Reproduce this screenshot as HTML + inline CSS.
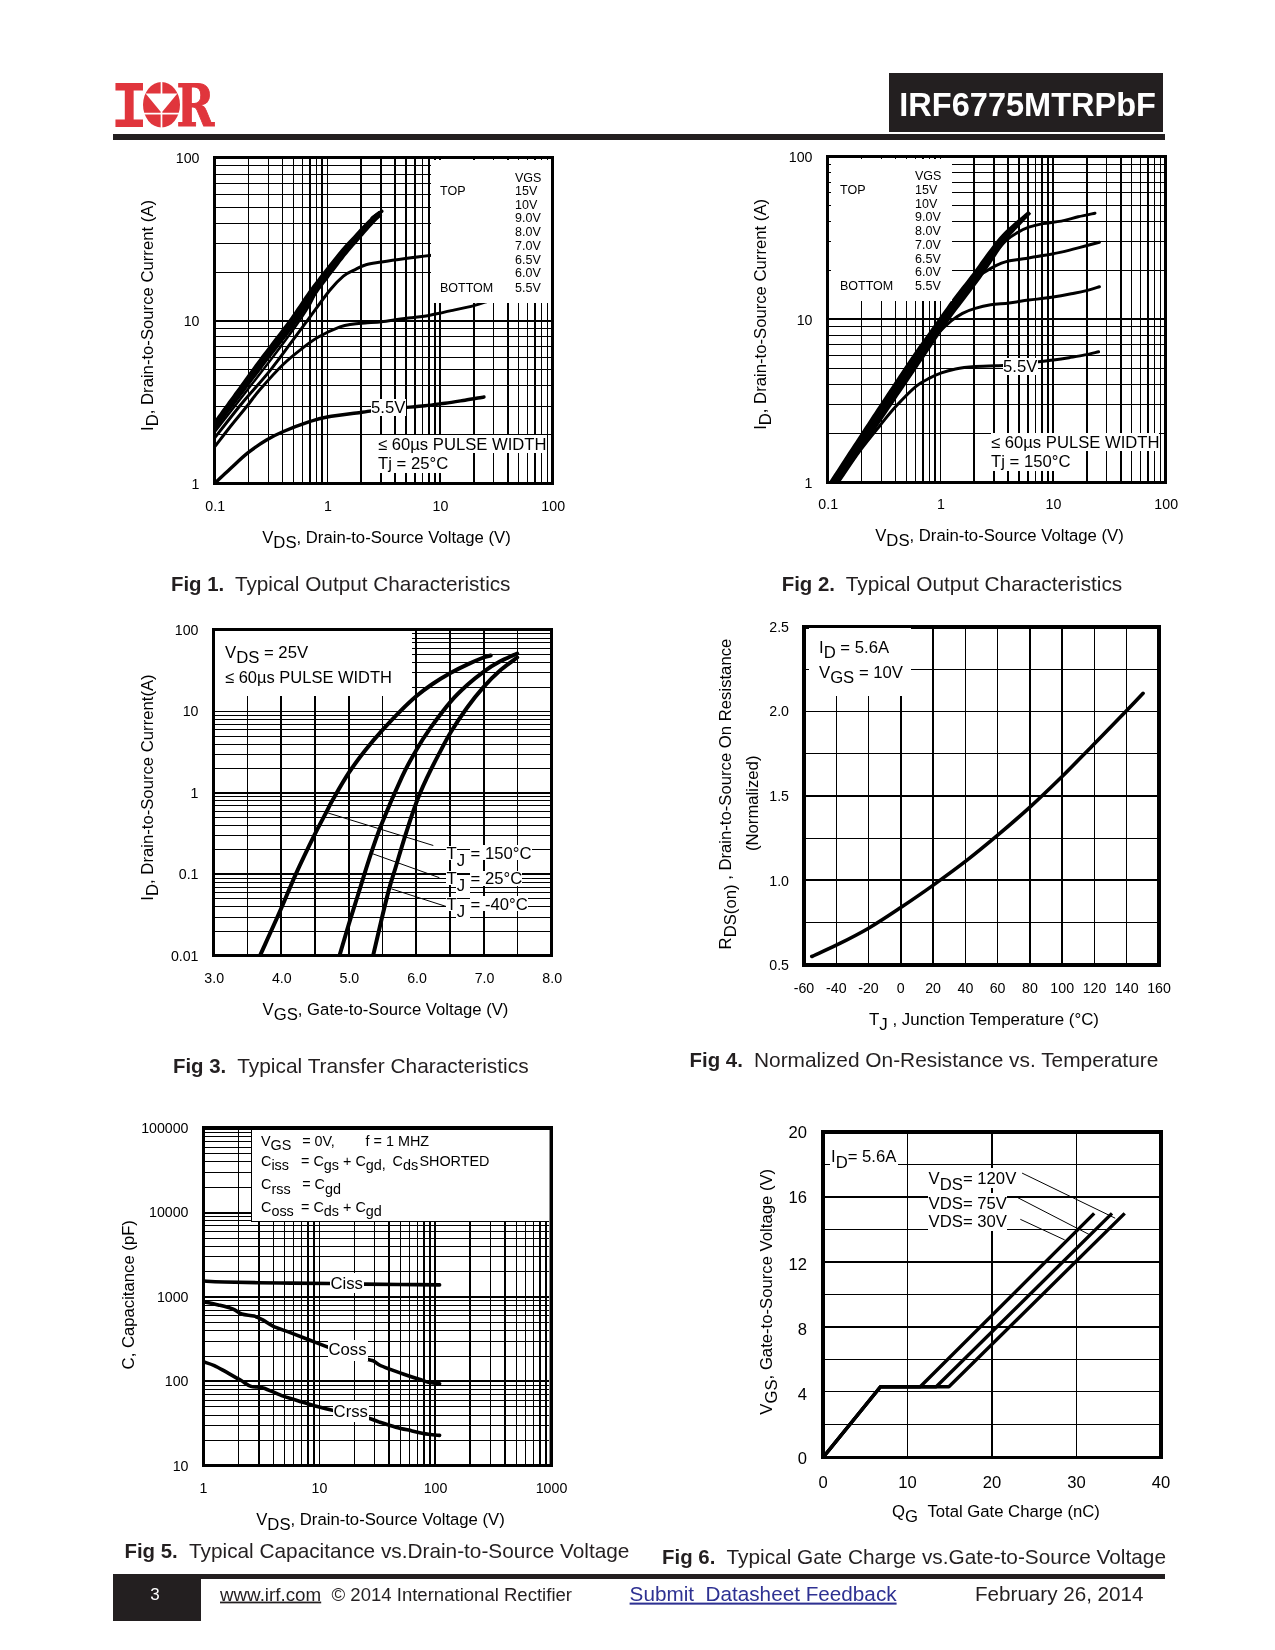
<!DOCTYPE html>
<html lang="en"><head><meta charset="utf-8"><title>IRF6775MTRPbF</title>
<style>
html,body{margin:0;padding:0;background:#fff}
body{width:1275px;height:1650px;overflow:hidden}
svg{display:block;font-family:'Liberation Sans', sans-serif;fill:#000;will-change:transform;transform:translateZ(0)}
</style></head><body>
<svg width="1275" height="1650" viewBox="0 0 1275 1650">
<g fill="#e0353c">
<text x="110.7" y="126.9" font-family="'Liberation Mono', monospace" font-weight="bold" font-size="67" textLength="36.9" lengthAdjust="spacingAndGlyphs">I</text>
<text x="0" y="0" font-family="'DejaVu Serif', 'Liberation Serif', serif" font-weight="bold" font-size="58" stroke="#e0353c" stroke-width="1.0" stroke-linejoin="miter" transform="translate(176.6,126.4) scale(0.784,1.0)">R</text>
<ellipse cx="161.5" cy="104.8" rx="18.5" ry="22.8"/>
</g>
<path d="M145.6 93.5H177.4L161.5 112.8Z" fill="#fff"/>
<path d="M161.5 81V94 M161.5 112V128.5 M142 113.7H181" stroke="#fff" stroke-width="1.7" fill="none"/>
<rect x="889.00" y="73.00" width="274.00" height="59.30" fill="#231f20" shape-rendering="crispEdges"/>
<text x="899.3" y="116" font-size="33.5" font-weight="bold" fill="#fff" textLength="256.7" lengthAdjust="spacingAndGlyphs">IRF6775MTRPbF</text>
<rect x="113.00" y="134.00" width="1052.00" height="5.60" fill="#231f20" shape-rendering="crispEdges"/>
<path d="M248 157h1V484h-1zM268 157h1V484h-1zM282 157h1V484h-1zM293 157h1V484h-1zM302 157h1V484h-1zM309 157h2V484h-2zM316 157h1V484h-1zM321 157h2V484h-2zM327 157h1V484h-1zM360 157h2V484h-2zM380 157h2V484h-2zM394 157h2V484h-2zM405 157h2V484h-2zM414 157h2V484h-2zM422 157h1V484h-1zM428 157h2V484h-2zM434 157h2V484h-2zM439 157h2V484h-2zM473 157h2V484h-2zM493 157h1V484h-1zM507 157h2V484h-2zM518 157h1V484h-1zM527 157h1V484h-1zM534 157h2V484h-2zM541 157h1V484h-1zM547 157h1V484h-1zM214 434H553v1H214zM214 406H553v1H214zM214 385H553v1H214zM214 369H553v1H214zM214 357H553v1H214zM214 346H553v1H214zM214 336H553v1H214zM214 328H553v1H214zM214 320H553v2H214zM214 272H553v1H214zM214 243H553v1H214zM214 223H553v1H214zM214 207H553v1H214zM214 194H553v1H214zM214 183H553v1H214zM214 174H553v1H214zM214 165H553v1H214z" fill="#000" shape-rendering="crispEdges"/>
<text x="215.2" y="511.0" font-size="14.2" text-anchor="middle">0.1</text>
<text x="327.9" y="511.0" font-size="14.2" text-anchor="middle">1</text>
<text x="440.5" y="511.0" font-size="14.2" text-anchor="middle">10</text>
<text x="553.2" y="511.0" font-size="14.2" text-anchor="middle">100</text>
<text x="199.5" y="162.8" font-size="14.2" text-anchor="end">100</text>
<text x="199.5" y="325.8" font-size="14.2" text-anchor="end">10</text>
<text x="199.5" y="488.8" font-size="14.2" text-anchor="end">1</text>
<text x="386.5" y="543.0" font-size="16.7" text-anchor="middle">V<tspan dy="5">DS</tspan><tspan dy="-5">, Drain-to-Source Voltage (V)</tspan></text>
<text transform="translate(152.5,315.5) rotate(-90)" font-size="16.7" text-anchor="middle">I<tspan dy="5">D</tspan><tspan dy="-5">, Drain-to-Source Current (A)</tspan></text>
<clipPath id="c1"><rect x="214.5" y="157.5" width="338.0" height="326.0"/></clipPath><g clip-path="url(#c1)">
<path d="M212.7 434.0 L214.8 431.2 L216.9 428.4 L219.1 425.6 L221.2 422.8 L223.3 420.0 L225.4 417.2 L227.5 414.3 L229.6 411.5 L231.8 408.7 L233.9 405.9 L236.0 403.1 L238.1 400.3 L240.2 397.5 L242.3 394.7 L244.5 391.9 L246.6 389.1 L248.7 386.3 L250.8 383.4 L252.9 380.6 L255.0 377.8 L257.2 375.0 L259.3 372.2 L261.4 369.4 L263.5 366.6 L265.6 363.8 L267.7 361.0 L269.9 358.3 L272.0 355.5 L274.2 352.7 L276.3 349.9 L278.5 347.2 L280.6 344.4 L282.8 341.6 L285.0 338.8 L287.1 336.0 L289.3 333.3 L291.4 330.5 L293.6 327.7 L295.7 324.8 L297.8 321.9 L299.9 319.0 L301.9 316.0 L303.9 313.1 L305.8 310.2 L307.8 307.3 L309.8 304.4 L311.7 301.4 L313.7 298.6 L315.6 295.7 L317.6 292.9 L319.6 290.1 L321.7 287.3 L323.8 284.5 L325.9 281.7 L328.1 278.9 L330.2 276.1 L332.3 273.3 L334.5 270.5 L336.6 267.7 L338.7 264.9 L340.8 262.1 L343.0 259.4 L345.1 256.6 L347.3 254.0 L349.5 251.3 L351.7 248.7 L354.0 246.0 L356.4 243.4 L358.7 240.7 L361.0 238.1 L363.3 235.4 L365.6 232.8 L367.9 230.2 L370.2 227.6 L372.6 225.0 L374.9 222.5 L377.3 220.1 L379.8 217.7 L382.3 215.3 L378.7 211.1 L375.9 213.3 L373.1 215.5 L370.4 217.9 L367.8 220.4 L365.3 223.0 L362.9 225.5 L360.4 228.1 L358.0 230.7 L355.7 233.3 L353.3 235.9 L350.9 238.5 L348.5 241.1 L346.1 243.6 L343.7 246.3 L341.3 249.0 L339.0 251.7 L336.8 254.5 L334.6 257.2 L332.4 260.0 L330.2 262.8 L328.0 265.5 L325.9 268.3 L323.7 271.1 L321.5 273.8 L319.3 276.6 L317.2 279.4 L315.0 282.2 L312.8 285.0 L310.7 287.9 L308.6 290.8 L306.6 293.7 L304.6 296.6 L302.6 299.6 L300.7 302.5 L298.7 305.4 L296.7 308.3 L294.8 311.2 L292.8 314.1 L290.8 316.9 L288.8 319.7 L286.8 322.5 L284.7 325.3 L282.5 328.1 L280.4 330.9 L278.3 333.7 L276.1 336.5 L274.0 339.3 L271.9 342.1 L269.7 344.9 L267.6 347.7 L265.5 350.4 L263.3 353.3 L261.2 356.1 L259.1 358.9 L257.0 361.8 L254.9 364.6 L252.8 367.4 L250.8 370.3 L248.7 373.1 L246.6 376.0 L244.6 378.8 L242.5 381.7 L240.4 384.5 L238.4 387.4 L236.3 390.2 L234.2 393.1 L232.2 395.9 L230.1 398.7 L228.0 401.6 L226.0 404.4 L223.9 407.3 L221.8 410.1 L219.8 413.0 L217.7 415.8 L215.6 418.7 L213.6 421.5 L211.5 424.3 L209.4 427.1 L207.3 430.0Z" fill="#000"/>
<path d="M214.5 432.2C223.8 420.2 256.9 377.9 270.6 360.0C284.3 342.1 290.1 334.0 296.5 325.0C302.9 316.0 305.8 311.5 309.0 306.0C312.2 300.5 314.8 294.3 316.0 292.0" stroke="#000" stroke-width="2.4" fill="none" stroke-linecap="round" stroke-linejoin="round"/>
<path d="M372.0 218.0C373.0 217.2 376.3 214.6 378.0 213.5C379.7 212.4 381.3 211.7 382.0 211.3" stroke="#000" stroke-width="3.2" fill="none" stroke-linecap="round" stroke-linejoin="round"/>
<path d="M214.5 438.2C219.2 432.2 233.4 413.6 243.0 402.0C252.6 390.4 261.1 382.0 271.8 368.4C282.5 354.8 297.6 333.7 307.3 320.6C317.0 307.5 324.0 297.4 330.0 290.0C336.0 282.6 339.3 279.5 343.4 276.1C347.5 272.7 350.9 271.7 354.7 269.8C358.5 267.9 361.5 266.1 366.0 264.8C370.5 263.5 374.9 263.1 381.5 262.0C388.1 260.9 397.1 259.6 405.5 258.5C413.9 257.4 427.6 255.8 432.0 255.3" stroke="#000" stroke-width="3" fill="none" stroke-linecap="round" stroke-linejoin="round"/>
<path d="M214.5 447.0C217.1 443.7 224.4 434.1 230.0 427.0C235.6 419.9 243.2 410.9 248.1 404.7C253.0 398.5 253.8 396.7 259.6 390.0C265.4 383.3 275.9 371.5 283.1 364.5C290.3 357.5 296.8 352.6 302.7 348.0C308.6 343.4 312.2 340.5 318.4 337.0C324.6 333.5 334.4 329.0 340.0 326.9C345.6 324.8 347.8 324.8 352.0 324.2C356.2 323.6 360.1 323.4 365.0 323.0C369.9 322.6 376.1 322.4 381.5 321.8C386.9 321.2 392.2 320.3 397.1 319.6C402.1 318.9 405.9 318.5 411.2 317.8C416.5 317.1 424.1 316.1 428.8 315.4C433.5 314.6 435.9 314.1 439.4 313.3C442.9 312.6 444.2 312.2 450.0 310.9C455.8 309.6 467.7 307.2 473.9 305.6C480.1 304.0 484.8 302.2 487.0 301.5" stroke="#000" stroke-width="3" fill="none" stroke-linecap="round" stroke-linejoin="round"/>
<path d="M214.5 483.5C217.1 481.1 224.4 474.1 230.0 469.0C235.6 463.9 242.0 457.5 248.1 452.7C254.2 447.9 260.6 443.5 266.5 440.0C272.4 436.5 276.3 434.5 283.4 431.5C290.4 428.5 301.5 424.3 308.8 421.9C316.1 419.5 318.4 418.6 327.2 417.0C336.0 415.4 354.3 413.3 361.8 412.3C369.3 411.3 370.3 411.1 372.0 410.8" stroke="#000" stroke-width="3.4" fill="none" stroke-linecap="round" stroke-linejoin="round"/>
<path d="M405.0 407.5C408.3 407.2 418.3 406.5 425.0 405.8C431.7 405.1 438.3 404.1 445.0 403.2C451.7 402.3 458.5 401.2 465.0 400.2C471.5 399.2 480.8 397.5 484.0 397.0" stroke="#000" stroke-width="3.4" fill="none" stroke-linecap="round" stroke-linejoin="round"/>
</g>
<rect x="430.50" y="160.00" width="120.50" height="142.50" fill="#fff" shape-rendering="crispEdges"/>
<text x="515" y="181.5" font-size="12.5">VGS</text>
<text x="515" y="195.29999999999998" font-size="12.5">15V</text>
<text x="515" y="209.1" font-size="12.5">10V</text>
<text x="515" y="222.1" font-size="12.5">9.0V</text>
<text x="515" y="235.79999999999998" font-size="12.5">8.0V</text>
<text x="515" y="249.7" font-size="12.5">7.0V</text>
<text x="515" y="263.90000000000003" font-size="12.5">6.5V</text>
<text x="515" y="276.90000000000003" font-size="12.5">6.0V</text>
<text x="515" y="291.70000000000005" font-size="12.5">5.5V</text>
<text x="440" y="195.3" font-size="12.5">TOP</text>
<text x="440" y="291.7" font-size="12.5">BOTTOM</text>
<rect x="371.00" y="398.50" width="35.00" height="17.00" fill="#fff" shape-rendering="crispEdges"/>
<text x="371" y="413.2" font-size="16.7">5.5V</text>
<rect x="377.50" y="435.00" width="168.40" height="17.50" fill="#fff" shape-rendering="crispEdges"/>
<rect x="377.50" y="452.00" width="72.00" height="21.00" fill="#fff" shape-rendering="crispEdges"/>
<text x="378" y="450.2" font-size="16.7" textLength="168.5" lengthAdjust="spacingAndGlyphs">≤ 60µs PULSE WIDTH</text>
<text x="378" y="468.8" font-size="16.7">Tj = 25°C</text>
<path d="M213 156H554V485H213Z M216 159V482H551V159Z" fill="#000" fill-rule="evenodd" shape-rendering="crispEdges"/>
<path d="M861 156h1V483h-1zM881 156h1V483h-1zM895 156h1V483h-1zM906 156h1V483h-1zM915 156h1V483h-1zM922 156h2V483h-2zM929 156h1V483h-1zM934 156h2V483h-2zM940 156h1V483h-1zM973 156h2V483h-2zM993 156h2V483h-2zM1007 156h2V483h-2zM1018 156h2V483h-2zM1027 156h2V483h-2zM1035 156h1V483h-1zM1041 156h2V483h-2zM1047 156h2V483h-2zM1052 156h2V483h-2zM1086 156h2V483h-2zM1106 156h1V483h-1zM1120 156h2V483h-2zM1131 156h1V483h-1zM1140 156h1V483h-1zM1147 156h2V483h-2zM1154 156h1V483h-1zM1160 156h1V483h-1zM827 433H1166v1H827zM827 404H1166v1H827zM827 384H1166v1H827zM827 368H1166v1H827zM827 355H1166v1H827zM827 344H1166v1H827zM827 335H1166v1H827zM827 326H1166v1H827zM827 318H1166v2H827zM827 270H1166v1H827zM827 241H1166v1H827zM827 221H1166v1H827zM827 205H1166v1H827zM827 192H1166v1H827zM827 182H1166v1H827zM827 172H1166v1H827zM827 164H1166v1H827z" fill="#000" shape-rendering="crispEdges"/>
<text x="828.2" y="509.1" font-size="14.2" text-anchor="middle">0.1</text>
<text x="940.9" y="509.1" font-size="14.2" text-anchor="middle">1</text>
<text x="1053.5" y="509.1" font-size="14.2" text-anchor="middle">10</text>
<text x="1166.2" y="509.1" font-size="14.2" text-anchor="middle">100</text>
<text x="812.5" y="161.8" font-size="14.2" text-anchor="end">100</text>
<text x="812.5" y="324.7" font-size="14.2" text-anchor="end">10</text>
<text x="812.5" y="487.6" font-size="14.2" text-anchor="end">1</text>
<text x="999.5" y="541.0999999999999" font-size="16.7" text-anchor="middle">V<tspan dy="5">DS</tspan><tspan dy="-5">, Drain-to-Source Voltage (V)</tspan></text>
<text transform="translate(765.5,314.4) rotate(-90)" font-size="16.7" text-anchor="middle">I<tspan dy="5">D</tspan><tspan dy="-5">, Drain-to-Source Current (A)</tspan></text>
<clipPath id="c2"><rect x="827.5" y="156.5" width="338.0" height="325.8"/></clipPath><g clip-path="url(#c2)">
<path d="M831.5 493.4 L834.0 489.7 L836.4 486.1 L838.8 482.5 L841.3 478.9 L843.8 475.3 L846.3 471.7 L848.8 468.1 L851.2 464.6 L853.7 461.0 L856.2 457.4 L858.7 453.8 L861.2 450.2 L863.7 446.6 L866.1 443.0 L868.6 439.4 L871.1 435.8 L873.6 432.2 L876.1 428.7 L878.6 425.1 L881.0 421.4 L883.5 417.8 L885.9 414.2 L888.4 410.6 L890.8 407.0 L893.3 403.4 L895.7 399.8 L898.1 396.1 L900.6 392.5 L903.0 388.9 L905.5 385.3 L907.9 381.7 L910.4 378.1 L912.8 374.4 L915.3 370.8 L917.7 367.2 L920.1 363.6 L922.6 360.0 L925.0 356.4 L927.4 352.8 L929.8 349.2 L932.3 345.5 L934.7 341.9 L937.1 338.3 L939.5 334.7 L942.0 331.0 L944.4 327.4 L946.9 323.9 L949.4 320.3 L951.9 316.8 L954.5 313.3 L957.1 309.8 L959.7 306.4 L962.3 302.9 L965.0 299.5 L967.6 296.1 L970.3 292.6 L972.9 289.1 L975.6 285.6 L978.2 282.0 L980.8 278.4 L983.3 274.8 L985.7 271.2 L988.2 267.6 L990.6 263.9 L993.1 260.3 L995.5 256.7 L997.9 253.1 L1000.3 249.5 L1002.8 245.9 L1005.2 242.5 L1007.7 239.1 L1010.3 235.8 L1013.2 232.7 L1016.1 229.5 L1019.1 226.4 L1022.1 223.2 L1025.1 220.1 L1028.1 216.9 L1031.2 213.8 L1028.4 210.8 L1025.1 213.6 L1021.7 216.4 L1018.3 219.2 L1015.0 222.1 L1011.7 224.9 L1008.4 227.9 L1005.1 231.0 L1002.0 234.2 L999.0 237.6 L996.2 241.1 L993.4 244.5 L990.8 248.0 L988.1 251.5 L985.5 255.0 L983.0 258.6 L980.4 262.1 L977.9 265.7 L975.3 269.2 L972.8 272.7 L970.2 276.1 L967.6 279.5 L964.9 282.9 L962.2 286.3 L959.5 289.8 L956.8 293.2 L954.1 296.7 L951.5 300.3 L948.9 303.8 L946.4 307.4 L943.8 311.0 L941.3 314.5 L938.7 318.1 L936.2 321.7 L933.7 325.3 L931.1 328.8 L928.6 332.4 L926.0 335.9 L923.5 339.5 L921.0 343.0 L918.4 346.6 L915.9 350.2 L913.4 353.8 L910.9 357.4 L908.5 361.0 L906.0 364.7 L903.6 368.3 L901.2 371.9 L898.8 375.6 L896.4 379.2 L894.0 382.8 L891.6 386.5 L889.2 390.1 L886.7 393.8 L884.3 397.4 L881.9 401.0 L879.5 404.7 L877.1 408.3 L874.7 412.0 L872.3 415.6 L869.9 419.2 L867.5 422.9 L865.1 426.5 L862.7 430.2 L860.3 433.9 L858.0 437.5 L855.6 441.2 L853.2 444.8 L850.8 448.5 L848.4 452.1 L846.0 455.8 L843.6 459.4 L841.3 463.1 L838.9 466.8 L836.5 470.4 L834.1 474.1 L831.7 477.7 L829.3 481.4 L826.9 485.0 L824.5 488.6Z" fill="#000"/>
<path d="M990.0 258.0C992.7 255.1 1001.6 244.6 1006.2 240.4C1010.8 236.2 1013.7 234.8 1017.5 232.6C1021.3 230.4 1024.5 228.7 1028.8 227.2C1033.0 225.7 1037.6 224.6 1043.0 223.6C1048.4 222.6 1055.4 222.2 1061.3 221.1C1067.2 220.0 1072.6 218.1 1078.2 216.8C1083.8 215.5 1092.2 213.8 1095.0 213.2" stroke="#000" stroke-width="3" fill="none" stroke-linecap="round" stroke-linejoin="round"/>
<path d="M960.0 298.0C962.5 294.8 970.8 283.5 975.2 279.0C979.6 274.5 983.0 273.3 986.5 271.0C990.0 268.7 993.1 266.9 996.4 265.3C999.7 263.7 1002.2 262.6 1006.2 261.6C1010.2 260.6 1014.3 260.2 1020.4 259.2C1026.5 258.2 1036.2 256.8 1043.0 255.6C1049.8 254.4 1055.4 253.4 1061.3 252.1C1067.2 250.8 1071.8 249.6 1078.2 247.9C1084.6 246.2 1095.9 243.1 1099.4 242.2" stroke="#000" stroke-width="3" fill="none" stroke-linecap="round" stroke-linejoin="round"/>
<path d="M920.0 356.0C923.1 352.2 933.3 338.9 938.5 333.0C943.7 327.1 947.2 324.2 951.2 320.9C955.2 317.6 958.5 315.4 962.5 313.3C966.5 311.2 970.5 309.8 975.2 308.4C979.9 307.0 985.1 305.7 990.7 304.8C996.4 303.9 1002.8 303.7 1009.1 302.9C1015.5 302.1 1021.8 301.0 1028.8 300.1C1035.8 299.2 1044.3 298.4 1051.4 297.3C1058.5 296.2 1065.6 294.9 1071.2 293.8C1076.8 292.7 1080.6 292.1 1085.3 290.9C1090.0 289.7 1097.1 287.4 1099.4 286.7" stroke="#000" stroke-width="3" fill="none" stroke-linecap="round" stroke-linejoin="round"/>
<path d="M838.5 482.0C842.0 476.9 852.5 460.8 859.5 451.3C866.5 441.8 874.1 432.7 880.2 425.2C886.3 417.7 890.2 412.6 896.2 406.1C902.2 399.6 910.4 391.1 916.0 386.4C921.6 381.7 925.9 380.1 930.1 377.9C934.3 375.6 937.2 374.4 941.4 372.9C945.6 371.4 949.9 370.1 955.5 369.0C961.1 367.9 967.4 367.2 975.3 366.6C983.2 366.0 998.4 365.8 1003.0 365.6" stroke="#000" stroke-width="3" fill="none" stroke-linecap="round" stroke-linejoin="round"/>
<path d="M1037.0 362.0C1039.7 361.7 1048.1 360.8 1053.4 360.1C1058.8 359.4 1063.9 358.6 1069.1 357.7C1074.3 356.8 1079.9 355.9 1084.8 354.9C1089.7 353.9 1096.3 352.3 1098.6 351.8" stroke="#000" stroke-width="3" fill="none" stroke-linecap="round" stroke-linejoin="round"/>
</g>
<rect x="831.30" y="159.00" width="120.70" height="142.40" fill="#fff" shape-rendering="crispEdges"/>
<text x="915" y="180.0" font-size="12.5">VGS</text>
<text x="915" y="194.0" font-size="12.5">15V</text>
<text x="915" y="207.79999999999998" font-size="12.5">10V</text>
<text x="915" y="221.0" font-size="12.5">9.0V</text>
<text x="915" y="234.79999999999998" font-size="12.5">8.0V</text>
<text x="915" y="248.5" font-size="12.5">7.0V</text>
<text x="915" y="262.59999999999997" font-size="12.5">6.5V</text>
<text x="915" y="275.8" font-size="12.5">6.0V</text>
<text x="915" y="290.09999999999997" font-size="12.5">5.5V</text>
<text x="840" y="194" font-size="12.5">TOP</text>
<text x="840" y="290.1" font-size="12.5">BOTTOM</text>
<rect x="1003.00" y="357.50" width="35.00" height="17.00" fill="#fff" shape-rendering="crispEdges"/>
<text x="1003" y="372.3" font-size="16.7">5.5V</text>
<rect x="990.50" y="433.00" width="168.30" height="17.50" fill="#fff" shape-rendering="crispEdges"/>
<rect x="990.50" y="450.00" width="82.00" height="21.00" fill="#fff" shape-rendering="crispEdges"/>
<text x="991" y="448.2" font-size="16.7" textLength="168.5" lengthAdjust="spacingAndGlyphs">≤ 60µs PULSE WIDTH</text>
<text x="991" y="466.8" font-size="16.7">Tj = 150°C</text>
<path d="M826 155H1167V484H826Z M829 158V481H1164V158Z" fill="#000" fill-rule="evenodd" shape-rendering="crispEdges"/>
<path d="M247 629h1V956h-1zM280 629h2V956h-2zM314 629h2V956h-2zM348 629h2V956h-2zM382 629h1V956h-1zM415 629h2V956h-2zM449 629h2V956h-2zM483 629h2V956h-2zM517 629h1V956h-1zM213 931H552v1H213zM213 917H552v1H213zM213 906H552v1H213zM213 898H552v1H213zM213 892H552v1H213zM213 887H552v1H213zM213 882H552v1H213zM213 878H552v1H213zM213 873H552v2H213zM213 849H552v1H213zM213 835H552v1H213zM213 825H552v1H213zM213 817H552v1H213zM213 811H552v1H213zM213 805H552v1H213zM213 800H552v1H213zM213 796H552v1H213zM213 792H552v2H213zM213 768H552v1H213zM213 754H552v1H213zM213 744H552v1H213zM213 736H552v1H213zM213 729H552v1H213zM213 724H552v1H213zM213 719H552v1H213zM213 715H552v1H213zM213 711H552v1H213zM213 687H552v1H213zM213 672H552v1H213zM213 662H552v1H213zM213 654H552v1H213zM213 648H552v1H213zM213 642H552v1H213zM213 638H552v1H213zM213 633H552v1H213z" fill="#000" shape-rendering="crispEdges"/>
<text x="214.2" y="983.0" font-size="14.2" text-anchor="middle">3.0</text>
<text x="281.8" y="983.0" font-size="14.2" text-anchor="middle">4.0</text>
<text x="349.4" y="983.0" font-size="14.2" text-anchor="middle">5.0</text>
<text x="417.0" y="983.0" font-size="14.2" text-anchor="middle">6.0</text>
<text x="484.6" y="983.0" font-size="14.2" text-anchor="middle">7.0</text>
<text x="552.2" y="983.0" font-size="14.2" text-anchor="middle">8.0</text>
<text x="198.5" y="634.8" font-size="14.2" text-anchor="end">100</text>
<text x="198.5" y="716.3" font-size="14.2" text-anchor="end">10</text>
<text x="198.5" y="797.8" font-size="14.2" text-anchor="end">1</text>
<text x="198.5" y="879.3" font-size="14.2" text-anchor="end">0.1</text>
<text x="198.5" y="960.8" font-size="14.2" text-anchor="end">0.01</text>
<text x="385.5" y="1015.0" font-size="16.7" text-anchor="middle">V<tspan dy="5">GS</tspan><tspan dy="-5">, Gate-to-Source Voltage (V)</tspan></text>
<text transform="translate(152.5,787.5) rotate(-90)" font-size="16.7" text-anchor="middle">I<tspan dy="5">D</tspan><tspan dy="-5">, Drain-to-Source Current(A)</tspan></text>
<rect x="215.00" y="631.00" width="197.30" height="65.20" fill="#fff" shape-rendering="crispEdges"/>
<clipPath id="c3"><rect x="213.5" y="629.5" width="338.0" height="326.0"/></clipPath><g clip-path="url(#c3)">
<path d="M260.0 955.6C263.4 948.0 274.5 923.8 280.4 910.3C286.3 896.8 290.0 887.0 295.6 874.6C301.2 862.2 308.9 846.3 314.0 835.9C319.1 825.5 323.1 818.4 326.2 812.4C329.3 806.4 328.8 806.6 332.6 800.0C336.4 793.4 343.4 781.0 348.9 772.7C354.3 764.4 359.7 757.4 365.3 750.3C370.9 743.2 376.8 736.3 382.6 729.9C388.4 723.5 394.3 717.2 399.9 711.6C405.5 706.0 410.8 700.9 416.2 696.3C421.6 691.7 426.7 687.9 432.5 684.0C438.3 680.1 444.8 676.2 450.9 672.8C457.0 669.4 463.8 666.1 469.2 663.6C474.6 661.1 479.9 658.9 483.5 657.5C487.1 656.1 489.5 655.8 490.7 655.5" stroke="#000" stroke-width="4" fill="none" stroke-linecap="round" stroke-linejoin="round"/>
<path d="M339.5 955.6C341.0 950.4 345.5 935.2 348.7 924.6C351.9 914.0 355.5 902.9 358.9 892.0C362.3 881.1 365.4 870.5 369.1 859.3C372.8 848.1 375.8 838.5 381.3 824.7C386.8 811.0 396.2 789.2 402.0 776.8C407.8 764.4 411.4 758.4 416.2 750.3C420.9 742.1 424.7 736.0 430.5 727.9C436.3 719.8 444.8 708.5 450.9 701.4C457.0 694.3 461.8 690.0 467.2 685.1C472.6 680.2 478.1 675.7 483.5 671.8C488.9 667.9 494.2 664.6 499.8 661.6C505.4 658.6 514.3 654.9 517.2 653.5" stroke="#000" stroke-width="4" fill="none" stroke-linecap="round" stroke-linejoin="round"/>
<path d="M373.1 955.6C374.5 949.8 378.6 931.8 381.3 920.5C384.0 909.2 387.0 896.7 389.4 887.9C391.8 879.1 392.9 876.5 395.6 867.5C398.3 858.5 402.2 845.0 405.8 833.8C409.4 822.5 413.9 809.1 417.3 800.0C420.7 790.9 422.8 786.5 426.4 778.9C430.0 771.3 434.6 762.2 438.7 754.4C442.8 746.6 446.1 739.8 450.9 732.0C455.6 724.2 461.8 715.0 467.2 707.5C472.6 700.0 478.1 693.2 483.5 687.1C488.9 681.0 494.2 675.7 499.8 670.8C505.4 665.9 514.3 659.7 517.2 657.5" stroke="#000" stroke-width="4" fill="none" stroke-linecap="round" stroke-linejoin="round"/>
</g>
<line x1="326.2" y1="812.4" x2="433.3" y2="845.5" stroke="#000" stroke-width="1"/>
<line x1="371.1" y1="853.2" x2="439.4" y2="877.7" stroke="#000" stroke-width="1"/>
<line x1="391.5" y1="888.9" x2="446.5" y2="906.6" stroke="#000" stroke-width="1"/>
<text x="225" y="657.6" font-size="16.7">V<tspan dy="5">DS</tspan><tspan dy="-5"> = 25V</tspan></text>
<text x="225" y="683" font-size="16.7" textLength="167" lengthAdjust="spacingAndGlyphs">≤ 60µs PULSE WIDTH</text>
<rect x="446.30" y="845.80" width="10.70" height="14.00" fill="#fff" shape-rendering="crispEdges"/>
<rect x="456.30" y="850.30" width="13.70" height="17.00" fill="#fff" shape-rendering="crispEdges"/>
<rect x="469.50" y="845.30" width="62.00" height="15.00" fill="#fff" shape-rendering="crispEdges"/>
<text x="446.6" y="858.8" font-size="16.7">T<tspan dy="6.8">J</tspan><tspan dy="-6.8" x="470.6">= 150°C</tspan></text>
<rect x="446.30" y="871.30" width="10.70" height="14.00" fill="#fff" shape-rendering="crispEdges"/>
<rect x="456.30" y="875.80" width="13.70" height="17.00" fill="#fff" shape-rendering="crispEdges"/>
<rect x="469.50" y="870.80" width="52.50" height="15.00" fill="#fff" shape-rendering="crispEdges"/>
<text x="446.6" y="884.3" font-size="16.7">T<tspan dy="6.8">J</tspan><tspan dy="-6.8" x="470.6">= 25°C</tspan></text>
<rect x="446.30" y="896.90" width="10.70" height="14.00" fill="#fff" shape-rendering="crispEdges"/>
<rect x="456.30" y="901.40" width="13.70" height="17.00" fill="#fff" shape-rendering="crispEdges"/>
<rect x="469.50" y="896.40" width="58.00" height="15.00" fill="#fff" shape-rendering="crispEdges"/>
<text x="446.6" y="909.9" font-size="16.7">T<tspan dy="6.8">J</tspan><tspan dy="-6.8" x="470.6">= -40°C</tspan></text>
<path d="M212 628H553V957H212Z M215 631V954H550V631Z" fill="#000" fill-rule="evenodd" shape-rendering="crispEdges"/>
<path d="M836 626h1V965h-1zM868 626h1V965h-1zM900 626h2V965h-2zM932 626h2V965h-2zM965 626h1V965h-1zM997 626h1V965h-1zM1029 626h2V965h-2zM1061 626h2V965h-2zM1094 626h1V965h-1zM1126 626h1V965h-1zM804 669H1159v1H804zM804 711H1159v1H804zM804 753H1159v1H804zM804 795H1159v2H804zM804 838H1159v1H804zM804 879H1159v2H804zM804 922H1159v1H804z" fill="#000" shape-rendering="crispEdges"/>
<text x="804.0" y="992.5" font-size="14.2" text-anchor="middle">-60</text>
<text x="836.3" y="992.5" font-size="14.2" text-anchor="middle">-40</text>
<text x="868.5" y="992.5" font-size="14.2" text-anchor="middle">-20</text>
<text x="900.8" y="992.5" font-size="14.2" text-anchor="middle">0</text>
<text x="933.1" y="992.5" font-size="14.2" text-anchor="middle">20</text>
<text x="965.4" y="992.5" font-size="14.2" text-anchor="middle">40</text>
<text x="997.6" y="992.5" font-size="14.2" text-anchor="middle">60</text>
<text x="1029.9" y="992.5" font-size="14.2" text-anchor="middle">80</text>
<text x="1062.2" y="992.5" font-size="14.2" text-anchor="middle">100</text>
<text x="1094.5" y="992.5" font-size="14.2" text-anchor="middle">120</text>
<text x="1126.7" y="992.5" font-size="14.2" text-anchor="middle">140</text>
<text x="1159.0" y="992.5" font-size="14.2" text-anchor="middle">160</text>
<text x="789" y="631.8" font-size="14.2" text-anchor="end">2.5</text>
<text x="789" y="716.4" font-size="14.2" text-anchor="end">2.0</text>
<text x="789" y="801.0" font-size="14.2" text-anchor="end">1.5</text>
<text x="789" y="885.7" font-size="14.2" text-anchor="end">1.0</text>
<text x="789" y="970.3" font-size="14.2" text-anchor="end">0.5</text>
<text x="984.0" y="1024.5" font-size="16.7" text-anchor="middle" textLength="230" lengthAdjust="spacingAndGlyphs">T<tspan dy="5">J</tspan><tspan dy="-5"> , Junction Temperature (°C)</tspan></text>
<text transform="translate(731,794.05) rotate(-90)" font-size="16.7" text-anchor="middle">R<tspan dy="5">DS(on)</tspan><tspan dy="-5"> , Drain-to-Source On Resistance</tspan></text>
<text transform="translate(757.5,803.3) rotate(-90)" font-size="16.7" text-anchor="middle">(Normalized)</text>
<path d="M811.8 956.5C816.0 954.5 827.8 949.4 837.3 944.7C846.8 940.0 858.0 934.4 868.6 928.2C879.2 922.0 890.0 914.7 900.8 907.5C911.6 900.3 922.3 893.0 933.3 885.1C944.3 877.2 955.9 868.8 966.7 860.4C977.5 852.0 987.5 843.7 998.0 834.9C1008.5 826.1 1018.9 817.1 1029.4 807.6C1039.9 798.1 1050.3 788.1 1060.8 777.8C1071.3 767.5 1081.4 756.9 1092.2 745.9C1103.0 734.9 1117.0 720.6 1125.5 711.8C1134.0 703.0 1140.2 696.4 1143.1 693.3" stroke="#000" stroke-width="3.6" fill="none" stroke-linecap="round" stroke-linejoin="round"/>
<path d="M802 625H1161V967H802Z M806 629V963H1157V629Z" fill="#000" fill-rule="evenodd" shape-rendering="crispEdges"/>
<rect x="809.00" y="628.00" width="102.30" height="68.00" fill="#fff" shape-rendering="crispEdges"/>
<text x="819" y="653" font-size="16.7">I<tspan dy="5">D</tspan><tspan dy="-5"> = 5.6A</tspan></text>
<text x="819" y="677.5" font-size="16.7">V<tspan dy="5">GS</tspan><tspan dy="-5"> = 10V</tspan></text>
<path d="M238 1128h1V1466h-1zM258 1128h2V1466h-2zM273 1128h1V1466h-1zM284 1128h1V1466h-1zM293 1128h1V1466h-1zM301 1128h1V1466h-1zM307 1128h2V1466h-2zM313 1128h2V1466h-2zM319 1128h1V1466h-1zM354 1128h1V1466h-1zM374 1128h1V1466h-1zM388 1128h2V1466h-2zM400 1128h1V1466h-1zM409 1128h1V1466h-1zM417 1128h1V1466h-1zM423 1128h2V1466h-2zM429 1128h2V1466h-2zM434 1128h2V1466h-2zM469 1128h2V1466h-2zM490 1128h1V1466h-1zM504 1128h2V1466h-2zM516 1128h1V1466h-1zM525 1128h1V1466h-1zM533 1128h1V1466h-1zM539 1128h2V1466h-2zM545 1128h2V1466h-2zM203 1440H552v1H203zM203 1425H552v1H203zM203 1415H552v1H203zM203 1406H552v1H203zM203 1400H552v1H203zM203 1394H552v1H203zM203 1389H552v1H203zM203 1385H552v1H203zM203 1380H552v2H203zM203 1356H552v1H203zM203 1341H552v1H203zM203 1330H552v1H203zM203 1322H552v1H203zM203 1315H552v1H203zM203 1310H552v1H203zM203 1305H552v1H203zM203 1300H552v1H203zM203 1296H552v2H203zM203 1271H552v1H203zM203 1256H552v1H203zM203 1246H552v1H203zM203 1238H552v1H203zM203 1231H552v1H203zM203 1225H552v1H203zM203 1220H552v1H203zM203 1216H552v1H203zM203 1212H552v2H203zM203 1187H552v1H203zM203 1172H552v1H203zM203 1161H552v1H203zM203 1153H552v1H203zM203 1147H552v1H203zM203 1141H552v1H203zM203 1136H552v1H203zM203 1132H552v1H203z" fill="#000" shape-rendering="crispEdges"/>
<text x="203.5" y="1493.0" font-size="14.2" text-anchor="middle">1</text>
<text x="319.5" y="1493.0" font-size="14.2" text-anchor="middle">10</text>
<text x="435.5" y="1493.0" font-size="14.2" text-anchor="middle">100</text>
<text x="551.5" y="1493.0" font-size="14.2" text-anchor="middle">1000</text>
<text x="188.5" y="1133.3" font-size="14.2" text-anchor="end">100000</text>
<text x="188.5" y="1216.7" font-size="14.2" text-anchor="end">10000</text>
<text x="188.5" y="1302.0" font-size="14.2" text-anchor="end">1000</text>
<text x="188.5" y="1386.4" font-size="14.2" text-anchor="end">100</text>
<text x="188.5" y="1470.8" font-size="14.2" text-anchor="end">10</text>
<text x="380.5" y="1525.0" font-size="16.7" text-anchor="middle">V<tspan dy="5">DS</tspan><tspan dy="-5">, Drain-to-Source Voltage (V)</tspan></text>
<text transform="translate(133.5,1294.75) rotate(-90)" font-size="16.7" text-anchor="middle">C, Capacitance (pF)</text>
<clipPath id="c5"><rect x="203.5" y="1128" width="348.0" height="337.5"/></clipPath><g clip-path="url(#c5)">
<path d="M204.1 1281.0C207.5 1281.2 211.8 1281.7 224.5 1282.0C237.2 1282.3 262.3 1282.8 280.0 1283.0C297.7 1283.2 316.6 1283.3 330.5 1283.5C344.4 1283.7 351.5 1283.9 363.1 1284.1C374.7 1284.3 387.2 1284.4 400.0 1284.5C412.8 1284.6 433.0 1284.8 439.6 1284.9" stroke="#000" stroke-width="3.6" fill="none" stroke-linecap="round" stroke-linejoin="round"/>
<path d="M204.1 1301.8C206.5 1302.3 213.7 1303.7 218.4 1304.9C223.2 1306.1 228.7 1307.4 232.6 1308.9C236.5 1310.4 238.2 1312.8 241.8 1314.0C245.4 1315.2 250.4 1315.1 254.0 1316.1C257.6 1317.1 260.0 1318.5 263.2 1320.2C266.4 1321.9 269.0 1324.3 273.4 1326.3C277.8 1328.3 283.9 1330.2 289.7 1332.4C295.5 1334.6 301.6 1337.0 308.1 1339.5C314.6 1342.0 321.9 1345.0 328.5 1347.3C335.1 1349.6 341.6 1351.5 348.0 1353.5C354.4 1355.5 363.0 1358.1 367.2 1359.3C371.4 1360.5 371.3 1360.0 373.3 1360.9C375.3 1361.9 376.7 1363.6 379.4 1365.0C382.1 1366.4 385.5 1367.6 389.6 1369.1C393.7 1370.6 399.0 1372.5 403.9 1374.2C408.8 1375.9 415.1 1378.0 419.2 1379.3C423.3 1380.6 425.0 1381.5 428.4 1382.3C431.8 1383.0 437.7 1383.5 439.6 1383.8" stroke="#000" stroke-width="3.6" fill="none" stroke-linecap="round" stroke-linejoin="round"/>
<path d="M204.1 1362.0C205.8 1362.6 210.6 1363.9 214.3 1365.6C218.0 1367.3 222.1 1369.8 226.5 1372.2C230.9 1374.7 236.7 1377.9 240.8 1380.3C244.9 1382.7 247.3 1385.1 251.0 1386.4C254.7 1387.7 258.1 1386.4 263.2 1387.9C268.3 1389.4 275.8 1393.5 281.6 1395.6C287.4 1397.7 292.5 1399.0 297.9 1400.7C303.3 1402.4 308.4 1404.2 314.2 1405.8C320.0 1407.4 326.5 1408.9 332.5 1410.3C338.5 1411.7 344.1 1412.7 350.0 1414.0C355.9 1415.3 363.3 1416.7 368.2 1418.0C373.1 1419.3 374.8 1420.6 379.4 1422.1C384.0 1423.6 390.4 1425.7 395.8 1427.2C401.2 1428.7 406.7 1429.7 412.1 1430.9C417.5 1432.1 423.8 1433.5 428.4 1434.3C433.0 1435.0 437.7 1435.2 439.6 1435.4" stroke="#000" stroke-width="3.6" fill="none" stroke-linecap="round" stroke-linejoin="round"/>
</g>
<rect x="251.70" y="1129.50" width="299.00" height="92.10" fill="#fff" stroke="#000" stroke-width="1" shape-rendering="crispEdges"/>
<text x="261" y="1146" font-size="14.4">V<tspan dy="3.5">GS</tspan><tspan dy="-3.5" x="302.2">= 0V,</tspan><tspan x="365.6">f = 1 MHZ</tspan></text>
<text x="261" y="1165.7" font-size="14.4">C<tspan dy="4.5">iss</tspan><tspan dy="-4.5" x="301">= C</tspan><tspan dy="4.5">gs</tspan><tspan dy="-4.5"> + C</tspan><tspan dy="4.5">gd</tspan><tspan dy="-1">,</tspan><tspan dy="-3.5" x="392.5">C</tspan><tspan dy="4.5">ds</tspan><tspan dy="-4.5" x="419.4">SHORTED</tspan></text>
<text x="261" y="1189.2" font-size="14.4">C<tspan dy="4.5">rss</tspan><tspan dy="-4.5" x="302.2">= C</tspan><tspan dy="4.5">gd</tspan></text>
<text x="261" y="1211.8" font-size="14.4">C<tspan dy="4.5">oss</tspan><tspan dy="-4.5" x="301">= C</tspan><tspan dy="4.5">ds</tspan><tspan dy="-4.5"> + C</tspan><tspan dy="4.5">gd</tspan></text>
<rect x="329.50" y="1273.00" width="34.00" height="20.00" fill="#fff" shape-rendering="crispEdges"/>
<text x="330.5" y="1288.5" font-size="16.7">Ciss</text>
<rect x="327.50" y="1340.00" width="40.00" height="21.00" fill="#fff" shape-rendering="crispEdges"/>
<text x="328.5" y="1355.4" font-size="16.7">Coss</text>
<rect x="332.50" y="1401.00" width="36.00" height="21.00" fill="#fff" shape-rendering="crispEdges"/>
<text x="333.6" y="1416.6" font-size="16.7">Crss</text>
<path d="M202 1126H553V1467H202Z M205 1130V1464H550V1130Z" fill="#000" fill-rule="evenodd" shape-rendering="crispEdges"/>
<rect x="549.00" y="1130.00" width="1.00" height="334.00" fill="#8a8a8a" shape-rendering="crispEdges"/>
<path d="M907 1132h1V1458h-1zM991 1132h2V1458h-2zM1076 1132h1V1458h-1zM823 1164H1161v1H823zM823 1196H1161v2H823zM823 1229H1161v1H823zM823 1261H1161v2H823zM823 1294H1161v1H823zM823 1326H1161v2H823zM823 1359H1161v1H823zM823 1391H1161v1H823zM823 1424H1161v1H823z" fill="#000" shape-rendering="crispEdges"/>
<text x="823.0" y="1487.5" font-size="16.6" text-anchor="middle">0</text>
<text x="907.5" y="1487.5" font-size="16.6" text-anchor="middle">10</text>
<text x="992.0" y="1487.5" font-size="16.6" text-anchor="middle">20</text>
<text x="1076.5" y="1487.5" font-size="16.6" text-anchor="middle">30</text>
<text x="1161.0" y="1487.5" font-size="16.6" text-anchor="middle">40</text>
<text x="807" y="1138.3" font-size="16.6" text-anchor="end">20</text>
<text x="807" y="1203.4" font-size="16.6" text-anchor="end">16</text>
<text x="807" y="1269.5" font-size="16.6" text-anchor="end">12</text>
<text x="807" y="1334.6" font-size="16.6" text-anchor="end">8</text>
<text x="807" y="1399.7" font-size="16.6" text-anchor="end">4</text>
<text x="807" y="1463.8" font-size="16.6" text-anchor="end">0</text>
<text x="996.0" y="1516.5" font-size="16.7" text-anchor="middle">Q<tspan dy="5">G</tspan><tspan dy="-5" dx="5"> Total Gate Charge (nC)</tspan></text>
<text transform="translate(771.5,1291.75) rotate(-90)" font-size="16.7" text-anchor="middle">V<tspan dy="5">GS</tspan><tspan dy="-5">, Gate-to-Source Voltage (V)</tspan></text>
<path d="M823.0 1457.5 L880.5 1386.7 L920.2 1386.7 L1094.2 1213.4" stroke="#000" stroke-width="3.4" fill="none" stroke-linecap="butt" stroke-linejoin="round"/>
<path d="M823.0 1457.5 L880.5 1386.7 L936.2 1386.7 L1112.0 1213.4" stroke="#000" stroke-width="3.4" fill="none" stroke-linecap="butt" stroke-linejoin="round"/>
<path d="M823.0 1457.5 L880.5 1386.7 L948.9 1386.7 L1124.7 1213.4" stroke="#000" stroke-width="3.4" fill="none" stroke-linecap="butt" stroke-linejoin="round"/>
<line x1="1022.1" y1="1173.1" x2="1115.2" y2="1218.2" stroke="#000" stroke-width="1"/>
<line x1="1017.8" y1="1197.7" x2="1089.2" y2="1234.5" stroke="#000" stroke-width="1"/>
<line x1="1020.3" y1="1219.3" x2="1064.7" y2="1239.9" stroke="#000" stroke-width="1"/>
<rect x="830.00" y="1148.00" width="68.00" height="19.50" fill="#fff" shape-rendering="crispEdges"/>
<text x="831" y="1161.6" font-size="16.7">I<tspan dy="6">D</tspan><tspan dy="-6">= 5.6A</tspan></text>
<rect x="928.00" y="1167.80" width="89.00" height="20.20" fill="#fff" shape-rendering="crispEdges"/>
<text x="928.6" y="1184" font-size="16.7">V<tspan dy="6">DS</tspan><tspan dy="-6">= 120V</tspan></text>
<rect x="928.40" y="1192.80" width="78.30" height="38.00" fill="#fff" shape-rendering="crispEdges"/>
<text x="928.6" y="1208.9" font-size="16.7">VDS= 75V</text>
<text x="928.6" y="1227.2" font-size="16.7">VDS= 30V</text>
<path d="M821 1130H1163V1459H821Z M825 1134V1456H1159V1134Z" fill="#000" fill-rule="evenodd" shape-rendering="crispEdges"/>
<text x="171" y="590.5" font-size="20.4" font-weight="bold" fill="#231f20">Fig 1.</text>
<text x="234.9" y="590.5" font-size="20.4" fill="#231f20" textLength="275.6" lengthAdjust="spacingAndGlyphs">Typical Output Characteristics</text>
<text x="781.7" y="590.7" font-size="20.4" font-weight="bold" fill="#231f20">Fig 2.</text>
<text x="845.7" y="590.7" font-size="20.4" fill="#231f20" textLength="276.6" lengthAdjust="spacingAndGlyphs">Typical Output Characteristics</text>
<text x="173" y="1073" font-size="20.4" font-weight="bold" fill="#231f20">Fig 3.</text>
<text x="237.2" y="1073" font-size="20.4" fill="#231f20" textLength="291.4" lengthAdjust="spacingAndGlyphs">Typical Transfer Characteristics</text>
<text x="689.6" y="1067.2" font-size="20.4" font-weight="bold" fill="#231f20">Fig 4.</text>
<text x="754" y="1067.2" font-size="20.4" fill="#231f20" textLength="404.3" lengthAdjust="spacingAndGlyphs">Normalized On-Resistance vs. Temperature</text>
<text x="124.5" y="1558.2" font-size="20.4" font-weight="bold" fill="#231f20">Fig 5.</text>
<text x="189" y="1558.2" font-size="20.4" fill="#231f20" textLength="440.4" lengthAdjust="spacingAndGlyphs">Typical Capacitance vs.Drain-to-Source Voltage</text>
<text x="662.1" y="1563.9" font-size="20.4" font-weight="bold" fill="#231f20">Fig 6.</text>
<text x="726.5" y="1563.9" font-size="20.4" fill="#231f20" textLength="439.5" lengthAdjust="spacingAndGlyphs">Typical Gate Charge vs.Gate-to-Source Voltage</text>
<rect x="113.00" y="1573.80" width="1052.00" height="5.60" fill="#231f20" shape-rendering="crispEdges"/>
<rect x="113.00" y="1579.00" width="88.30" height="41.50" fill="#231f20" shape-rendering="crispEdges"/>
<text x="155" y="1600" font-size="17" text-anchor="middle" fill="#fff">3</text>
<text x="220" y="1600.6" font-size="17.5" fill="#231f20" textLength="101.2" lengthAdjust="spacingAndGlyphs" text-decoration="underline">www.irf.com</text>
<text x="331.5" y="1600.6" font-size="17.5" fill="#231f20" textLength="240.5" lengthAdjust="spacingAndGlyphs">© 2014 International Rectifier</text>
<text x="629.6" y="1600.6" font-size="20.5" fill="#2e3192" textLength="267" lengthAdjust="spacingAndGlyphs" text-decoration="underline">Submit&#160; Datasheet Feedback</text>
<text x="975" y="1600.6" font-size="20.5" fill="#231f20" textLength="168.5" lengthAdjust="spacingAndGlyphs">February 26, 2014</text>
</svg>
</body></html>
